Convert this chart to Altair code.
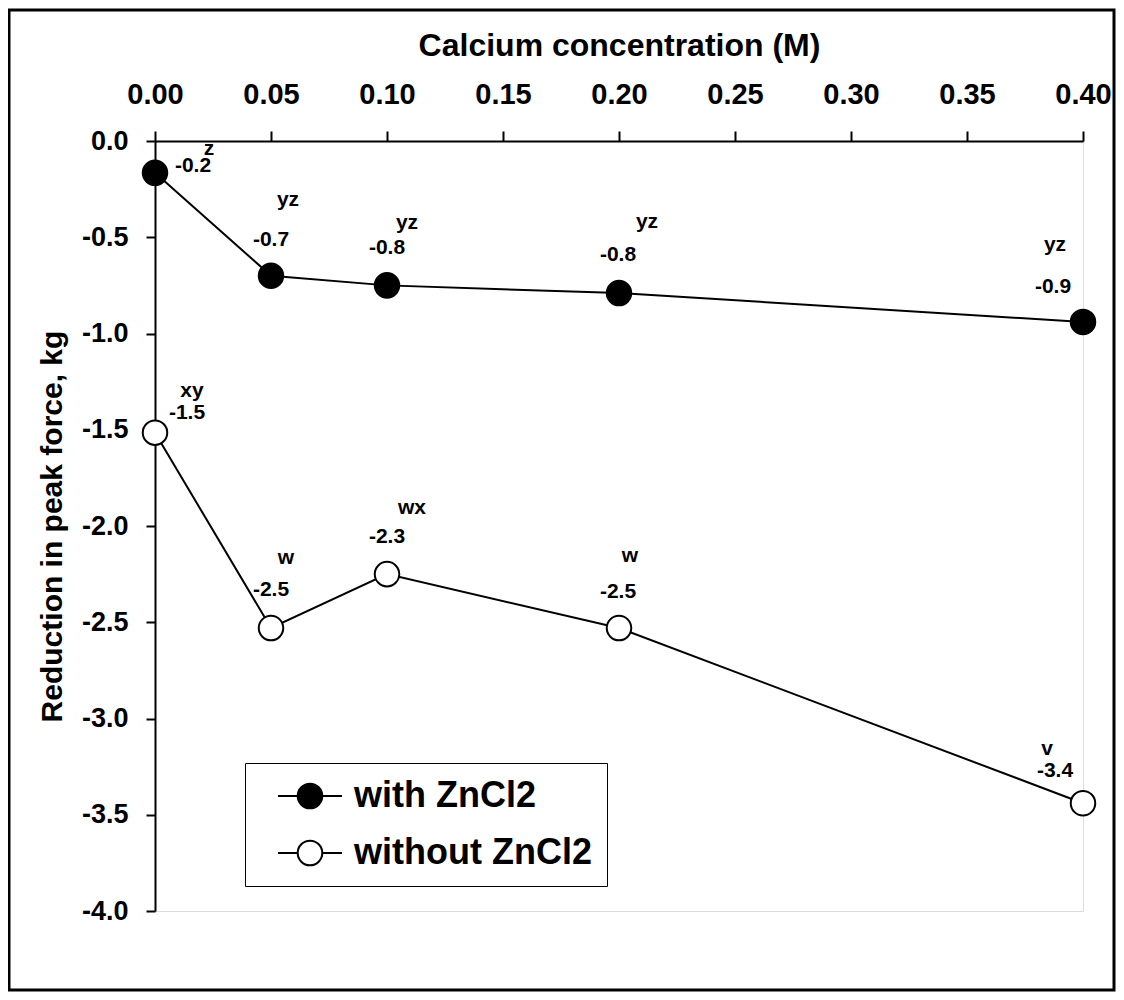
import altair as alt
import pandas as pd

# ---- data ----
x_vals = [0.00, 0.05, 0.10, 0.20, 0.40]
with_y = [-0.165, -0.70, -0.75, -0.79, -0.94]
without_y = [-1.515, -2.53, -2.25, -2.53, -3.44]
with_val_labels = ["-0.2", "-0.7", "-0.8", "-0.8", "-0.9"]
with_letters = ["z", "yz", "yz", "yz", "yz"]
without_val_labels = ["-1.5", "-2.5", "-2.3", "-2.5", "-3.4"]
without_letters = ["xy", "w", "wx", "w", "v"]
series_names = ["with ZnCl2", "without ZnCl2"]
x_ticks = [0.00, 0.05, 0.10, 0.15, 0.20, 0.25, 0.30, 0.35, 0.40]
y_ticks = [0.0, -0.5, -1.0, -1.5, -2.0, -2.5, -3.0, -3.5, -4.0]

# ---- label placement (pixel offsets from each point) ----
with_val_off = [(38, -7), (0, -36), (0, -37), (-1, -38), (-30, -35)]
with_let_off = [(54, -24), (17, -76), (20, -62), (28, -71), (-28, -77)]
without_val_off = [(32, -20), (0, -38), (0, -37), (-1, -36), (-28, -32)]
without_let_off = [(37, -42), (15, -70), (25, -66), (11, -72), (-36, -54)]

W, H = 928, 770
XD = [0, 0.4]
YD = [-4, 0]
px_x = W / (XD[1] - XD[0])
px_y = H / (YD[1] - YD[0])

rows = []
for name, ys, vl, lt, vo, lo in [
    (series_names[0], with_y, with_val_labels, with_letters, with_val_off, with_let_off),
    (series_names[1], without_y, without_val_labels, without_letters, without_val_off, without_let_off),
]:
    for i, x in enumerate(x_vals):
        rows.append({
            "series": name, "x": x, "y": ys[i],
            "val": vl[i], "letter": lt[i],
            "vx": x + vo[i][0] / px_x, "vy": ys[i] - vo[i][1] / px_y,
            "lx": x + lo[i][0] / px_x, "ly": ys[i] - lo[i][1] / px_y,
        })
df = pd.DataFrame(rows)

FONT = "Liberation Sans"

xscale = alt.Scale(domain=XD, nice=False, zero=False)
yscale = alt.Scale(domain=YD, nice=False, zero=False)

xaxis = alt.Axis(orient="top", values=x_ticks, format=".2f", grid=False,
                 title="Calcium concentration (M)", titleFont=FONT, titleFontSize=32,
                 titleFontWeight="bold", titleColor="black", titlePadding=18,
                 labelFont=FONT, labelFontSize=29, labelFontWeight="bold", labelColor="black",
                 labelPadding=22, tickSize=10, tickWidth=2, tickColor="black",
                 domainColor="black", domainWidth=2, labelFlush=False, labelOverlap=False)
yaxis = alt.Axis(orient="left", values=y_ticks, grid=False,
                 labelExpr="replace(format(datum.value, '.1f'), '\u2212', '-')",
                 title="Reduction in peak force, kg", titleFont=FONT, titleFontSize=30,
                 titleFontWeight="bold", titleColor="black", titlePadding=14,
                 labelFont=FONT, labelFontSize=27, labelFontWeight="bold", labelColor="black",
                 labelPadding=18, tickSize=9, tickWidth=2, tickColor="black",
                 domainColor="black", domainWidth=2, labelFlush=False, labelOverlap=False)

base = alt.Chart(df)

lines = base.mark_line(color="black", strokeWidth=2).encode(
    x=alt.X("x:Q", scale=xscale, axis=xaxis),
    y=alt.Y("y:Q", scale=yscale, axis=yaxis),
    detail="series:N",
)

sym_path = "M-2.6,0L-1,0M1,0L2.6,0M-1,0A1,1,0,1,0,1,0A1,1,0,1,0,-1,0Z"

points = base.mark_circle(size=600, stroke="black", strokeWidth=2, opacity=1).encode(
    x=alt.X("x:Q", scale=xscale),
    y=alt.Y("y:Q", scale=yscale),
    fill=alt.Fill("series:N",
                  scale=alt.Scale(domain=series_names, range=["black", "white"]),
                  legend=alt.Legend(title=None, orient="none", legendX=90, legendY=622,
                                    direction="vertical", symbolType=sym_path, symbolSize=605,
                                    symbolStrokeColor="black", symbolStrokeWidth=2,
                                    symbolOffset=32, labelFont=FONT, labelFontSize=36,
                                    labelFontWeight="bold", labelColor="black", labelOffset=26,
                                    labelLimit=500, padding=15, strokeColor="black",
                                    rowPadding=21)),
)

val_text = base.mark_text(font=FONT, fontSize=21, fontWeight="bold", color="black",
                          align="center", baseline="middle").encode(
    x=alt.X("vx:Q", scale=xscale),
    y=alt.Y("vy:Q", scale=yscale),
    text="val:N",
)
let_text = base.mark_text(font=FONT, fontSize=21, fontWeight="bold", color="black",
                          align="center", baseline="middle").encode(
    x=alt.X("lx:Q", scale=xscale),
    y=alt.Y("ly:Q", scale=yscale),
    text="letter:N",
)

frame = alt.Chart(pd.DataFrame({"a": [0]})).mark_rect(
    fillOpacity=0, stroke="black", strokeWidth=3).encode(
    x=alt.value(-146), x2=alt.value(959), y=alt.value(-131), y2=alt.value(849)
)

chart = alt.layer(frame, lines, points, val_text, let_text).properties(
    width=W, height=H,
    padding={"left": 147, "top": 133, "right": 33, "bottom": 81},
    autosize=alt.AutoSizeParams(type="none"),
).configure_view(stroke="#808080", strokeWidth=2.5).configure_legend(
    strokeWidth=2
).configure(background="white")

chart.save("out.html", embed_options={"renderer": "svg", "actions": False})
